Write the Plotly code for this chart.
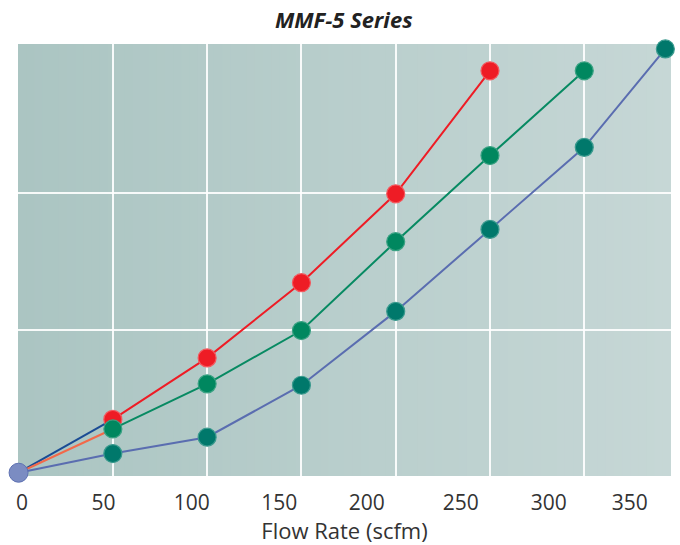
import plotly.graph_objects as go

# ---- data (flow rate in scfm, relative pressure drop; y axis unlabeled) ----
flow_red = [0, 50, 100, 150, 200, 250]
drop_red = [0.0, 0.39, 0.84, 1.39, 2.04, 2.94]

flow_green = [0, 50, 100, 150, 200, 250, 300]
drop_green = [0.0, 0.32, 0.65, 1.04, 1.69, 2.32, 2.94]

flow_blue = [0, 50, 100, 150, 200, 250, 300, 343]
drop_blue = [0.0, 0.14, 0.26, 0.64, 1.18, 1.78, 2.38, 3.10]

grid_x = [50, 100, 150, 200, 250, 300]
grid_y = [1.046, 2.046]
tick_pos = [1.8, 45.1, 91.8, 138.2, 184.6, 234.5, 281.2, 324.1]
tick_text = ["0", "50", "100", "150", "200", "250", "300", "350"]

XR = [-0.3, 346.0]
YR = [-0.024, 3.136]

FONT = "Open Sans"
TXT = "#333333"

fig = go.Figure()

# background horizontal gradient (left -> right)
c0 = (171, 197, 194)
c1 = (198, 215, 214)
N = 80
for i in range(N):
    t = i / (N - 1)
    col = tuple(round(c0[k] + (c1[k] - c0[k]) * t) for k in range(3))
    fig.add_shape(type="rect", xref="x domain", yref="y domain",
                  x0=i / N, x1=min(1, (i + 1.6) / N), y0=0, y1=1,
                  line=dict(width=0), fillcolor="rgb(%d,%d,%d)" % col, layer="below")

def series(x, y, line_col, first_col, m_fill, m_line, axis="x"):
    # first segment drawn in a different colour, as in the original
    fig.add_trace(go.Scatter(x=x[:2], y=y[:2], mode="lines",
                             line=dict(color=first_col, width=2), hoverinfo="skip",
                             showlegend=False, cliponaxis=False))
    fig.add_trace(go.Scatter(x=x[1:], y=y[1:], mode="lines+markers", xaxis=axis,
                             line=dict(color=line_col, width=2),
                             marker=dict(size=18, color=m_fill, line=dict(color=m_line, width=1.2)),
                             showlegend=False, cliponaxis=False))

series(flow_red, drop_red, "#ee1c25", "#1a4b94", "#ee1c25", "#f3585e")
series(flow_green, drop_green, "#078a62", "#f2694a", "#00875f", "#3aa283")
# blue series body sits on the overlaid label axis (identical range)
series(flow_blue, drop_blue, "#5a6db0", "#5a6db0", "#00786b", "#3a9a8e", axis="x2")

# shared origin point
fig.add_trace(go.Scatter(x=flow_blue[:1], y=drop_blue[:1], mode="markers",
                         marker=dict(size=19, color="#7b8cc2", line=dict(color="#5f72b3", width=1)),
                         showlegend=False, cliponaxis=False))

fig.update_layout(
    width=680, height=545,
    margin=dict(l=18, r=9, t=44, b=69, autoexpand=False),
    paper_bgcolor="white",
    plot_bgcolor="#b8cccb",
    font=dict(family=FONT, color=TXT),
    title=dict(text="<b><i>MMF-5 Series</i></b>", x=0.5055, xanchor="center",
               y=0.963, yanchor="middle", font=dict(family=FONT, size=22, color="#222222")),
    xaxis=dict(range=XR, tickvals=grid_x, showticklabels=False, showgrid=True,
               gridcolor="rgba(255,255,255,0.9)", gridwidth=2, zeroline=False,
               showline=False, ticks="", automargin=False),
    xaxis2=dict(range=XR, overlaying="x", anchor="y", side="bottom",
                tickvals=tick_pos, ticktext=tick_text, showgrid=False, zeroline=False,
                showline=False, ticks="", ticklabelstandoff=12, automargin=False,
                tickfont=dict(family=FONT, size=21, color=TXT),
                title=dict(text="Flow Rate (scfm)", font=dict(family=FONT, size=22, color=TXT),
                           standoff=8)),
    yaxis=dict(range=YR, tickvals=grid_y, showticklabels=False, showgrid=True,
               gridcolor="rgba(255,255,255,0.9)", gridwidth=2, zeroline=False,
               showline=False, ticks="", automargin=False),
)

fig.write_html("out.html", config={"displayModeBar": False},
               post_script="document.body.style.margin='0';")
